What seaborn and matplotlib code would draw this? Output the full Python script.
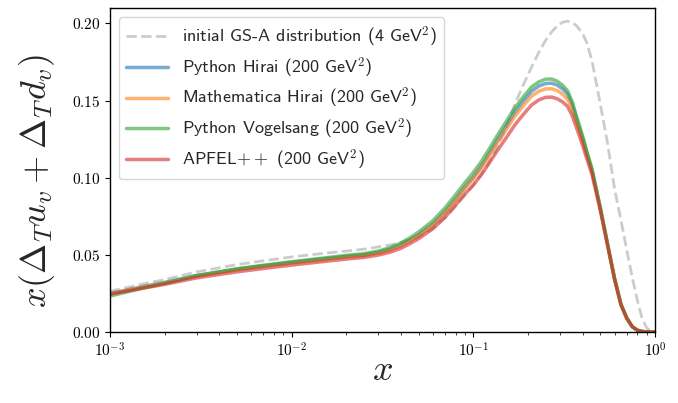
import matplotlib

matplotlib.use("Agg")
import matplotlib.pyplot as plt
import matplotlib.ticker as mticker
import numpy as np
import pandas as pd
import seaborn as sns

# momentum fraction grid
x_vals = [0.001, 0.0015, 0.002, 0.003, 0.005, 0.007, 0.01, 0.015, 0.02, 0.025,
          0.03, 0.035, 0.04, 0.045, 0.05, 0.06, 0.07, 0.08, 0.09, 0.1, 0.11,
          0.12, 0.135, 0.15, 0.17, 0.19, 0.21, 0.23, 0.25, 0.27, 0.29, 0.31,
          0.33, 0.35, 0.37, 0.4, 0.42, 0.45, 0.5, 0.55, 0.6, 0.65, 0.7, 0.75,
          0.8, 0.85, 0.9, 0.95, 1.0]

gsa_init = [0.0265, 0.0310, 0.0340, 0.0390, 0.0437, 0.0462, 0.0487, 0.0510,
            0.0525, 0.0537, 0.0552, 0.0565, 0.0580, 0.0598, 0.0618, 0.0672,
            0.0740, 0.0815, 0.0888, 0.0950, 0.1015, 0.1085, 0.1195, 0.1310,
            0.1480, 0.1610, 0.1720, 0.1815, 0.1890, 0.1945, 0.1985, 0.2008,
            0.2015, 0.2008, 0.1985, 0.1935, 0.1880, 0.1760, 0.1480, 0.1215,
            0.0925, 0.0725, 0.0530, 0.0355, 0.0205, 0.0088, 0.0028, 0.0004,
            0.0]

py_hirai = [0.0250, 0.0293, 0.0322, 0.0367, 0.0408, 0.0430, 0.0452, 0.0475,
            0.0491, 0.0501, 0.0517, 0.0538, 0.0566, 0.0598, 0.0630, 0.0700,
            0.0780, 0.0862, 0.0940, 0.1003, 0.1070, 0.1140, 0.1240, 0.1325,
            0.1427, 0.1502, 0.1562, 0.1595, 0.1611, 0.1613, 0.1600, 0.1576,
            0.1543, 0.1477, 0.1385, 0.1258, 0.1170, 0.1052, 0.0805, 0.0562,
            0.0343, 0.0179, 0.0090, 0.0035, 0.0012, 0.0004, 0.0001, 0.0,
            0.0]

mma_hirai = [0.0248, 0.0290, 0.0318, 0.0362, 0.0403, 0.0425, 0.0447, 0.0470,
             0.0486, 0.0496, 0.0512, 0.0533, 0.0560, 0.0592, 0.0624, 0.0692,
             0.0772, 0.0853, 0.0930, 0.0993, 0.1058, 0.1126, 0.1222, 0.1303,
             0.1400, 0.1472, 0.1530, 0.1561, 0.1576, 0.1577, 0.1565, 0.1542,
             0.1510, 0.1448, 0.1362, 0.1240, 0.1155, 0.1042, 0.0800, 0.0560,
             0.0342, 0.0178, 0.0089, 0.0035, 0.0012, 0.0004, 0.0001, 0.0,
             0.0]

py_vogelsang = [0.0233, 0.0283, 0.0315, 0.0365, 0.0410, 0.0433, 0.0456,
                0.0480, 0.0497, 0.0508, 0.0525, 0.0548, 0.0578, 0.0612,
                0.0648, 0.0722, 0.0805, 0.0890, 0.0968, 0.1033, 0.1100,
                0.1170, 0.1270, 0.1355, 0.1455, 0.1530, 0.1590, 0.1622,
                0.1639, 0.1640, 0.1626, 0.1600, 0.1565, 0.1495, 0.1400,
                0.1270, 0.1180, 0.1060, 0.0810, 0.0565, 0.0345, 0.0180,
                0.0090, 0.0035, 0.0012, 0.0004, 0.0001, 0.0, 0.0]

apfel = [0.0245, 0.0283, 0.0309, 0.0351, 0.0390, 0.0412, 0.0434, 0.0457,
         0.0473, 0.0484, 0.0499, 0.0518, 0.0543, 0.0574, 0.0605, 0.0670,
         0.0745, 0.0823, 0.0895, 0.0953, 0.1015, 0.1080, 0.1172, 0.1250,
         0.1345, 0.1415, 0.1473, 0.1505, 0.1521, 0.1523, 0.1512, 0.1492,
         0.1463, 0.1405, 0.1325, 0.1210, 0.1130, 0.1022, 0.0790, 0.0555,
         0.0340, 0.0177, 0.0089, 0.0035, 0.0012, 0.0004, 0.0001, 0.0, 0.0]

evolved = [
    ("Python Hirai (200 GeV$^2$)", py_hirai, "tab:blue"),
    ("Mathematica Hirai (200 GeV$^2$)", mma_hirai, "tab:orange"),
    ("Python Vogelsang (200 GeV$^2$)", py_vogelsang, "tab:green"),
    ("APFEL$++$ (200 GeV$^2$)", apfel, "tab:red"),
]

sns.set_style("ticks")
plt.rcParams["mathtext.fontset"] = "cm"
plt.rcParams["font.family"] = ["cmss10", "DejaVu Sans"]
plt.rcParams["axes.unicode_minus"] = False

fig, ax = plt.subplots(figsize=(6.78, 4.03), dpi=100)
fig.subplots_adjust(left=0.162, right=0.966, top=0.980, bottom=0.176)

sns.lineplot(x=x_vals, y=gsa_init, ax=ax, color="silver", linestyle="--",
             linewidth=2, alpha=0.8,
             label="initial GS-A distribution (4 GeV$^2$)")
for name, vals, col in evolved:
    df = pd.DataFrame({"x": x_vals, "y": vals})
    sns.lineplot(data=df, x="x", y="y", ax=ax, color=col, linewidth=2.5,
                 alpha=0.6, label=name)

ax.set_xscale("log")
ax.set_xlim(1e-3, 1)
ax.set_ylim(0, 0.21)
ax.set_yticks([0.0, 0.05, 0.10, 0.15, 0.20])
# tick labels in computer modern via plain mathtext
ax.xaxis.set_major_formatter(
    mticker.FuncFormatter(lambda v, p: f"$10^{{{int(round(np.log10(v)))}}}$"))
ax.yaxis.set_major_formatter(mticker.FormatStrFormatter("$%.2f$"))
ax.set_xlabel("$x$", fontsize=26, labelpad=-4)
ax.set_ylabel(r"$x(\Delta_T u_v + \Delta_T d_v)$", fontsize=26)
ax.yaxis.set_label_coords(-0.097, 0.466)
ax.tick_params(labelsize=11, colors="black")
for sp in ax.spines.values():
    sp.set_color("black")
    sp.set_linewidth(1.0)

leg = ax.legend(loc="upper left", fontsize=13, frameon=True, handlelength=2.3,
                labelspacing=0.35)
leg.get_frame().set_edgecolor("#cccccc")

fig.savefig("out.png", dpi=100)
